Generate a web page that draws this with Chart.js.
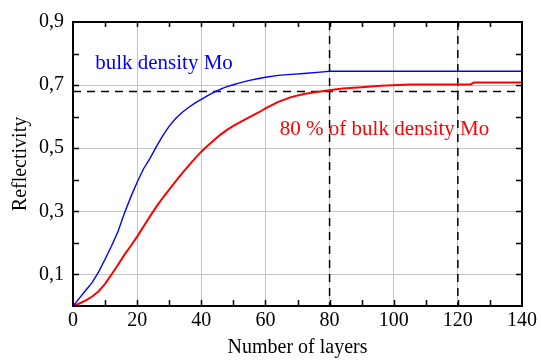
<!DOCTYPE html>
<html>
<head>
<meta charset="utf-8">
<script src="https://cdn.jsdelivr.net/npm/chart.js@4"></script>
<style>
  html, body { margin: 0; padding: 0; background: #fff; }
  #wrap { width: 541px; height: 360px; }
</style>
</head>
<body>
<div id="wrap"><canvas id="refl"></canvas></div>
<script>
// values
const bulkLayers = [0, 2, 4, 6, 8, 10, 12, 14, 16, 18, 20, 22, 24, 26, 28, 30, 32, 34, 36, 38, 40, 42, 44, 46, 48, 50, 52, 55, 58, 60, 64, 68, 72, 78, 80, 140];
const bulkRefl = [0, 0.025, 0.05, 0.075, 0.108, 0.148, 0.19, 0.235, 0.293, 0.345, 0.392, 0.435, 0.468, 0.505, 0.54, 0.57, 0.594, 0.613, 0.629, 0.643, 0.655, 0.667, 0.678, 0.687, 0.695, 0.701, 0.707, 0.715, 0.721, 0.725, 0.731, 0.734, 0.737, 0.742, 0.744, 0.744];

const lowLayers = [0, 2, 4, 6, 8, 10, 12, 14, 16, 18, 20, 22, 24, 26, 28, 30, 32, 34, 36, 38, 40, 42, 44, 46, 48, 50, 54, 58, 60, 64, 68, 72, 76, 80, 84, 90, 96, 105, 124, 125, 140];
const lowRefl = [0, 0.008, 0.018, 0.03, 0.047, 0.07, 0.1, 0.13, 0.162, 0.19, 0.22, 0.252, 0.284, 0.315, 0.343, 0.369, 0.395, 0.42, 0.444, 0.467, 0.489, 0.508, 0.526, 0.543, 0.558, 0.571, 0.593, 0.614, 0.626, 0.647, 0.662, 0.672, 0.678, 0.684, 0.689, 0.693, 0.698, 0.702, 0.702, 0.708, 0.708];

const refLevel = 0.68;
const refLayers = [80, 120];

const xTicks = [0, 20, 40, 60, 80, 100, 120, 140];
const yTicks = [0.1, 0.3, 0.5, 0.7, 0.9];

const labels = [
  { text: "bulk density Mo", x: 6.9, y: 0.752, color: "#0000ff" },
  { text: "80 % of bulk density Mo", x: 64.5, y: 0.543, color: "#ff0000" },
];

const serif = "'Liberation Serif', 'DejaVu Serif', serif";

const toPts = (xs, ys) => xs.map((x, i) => ({ x, y: ys[i] }));

const datasets = [
  {
    label: "bulk",
    data: toPts(bulkLayers, bulkRefl),
    borderColor: "#0000ff",
    borderWidth: 1.4,
  },
  {
    label: "80%",
    data: toPts(lowLayers, lowRefl),
    borderColor: "#ff0000",
    borderWidth: 2,
  },
  {
    label: "level",
    data: [{ x: 0, y: refLevel }, { x: 140, y: refLevel }],
    borderColor: "#000",
    borderWidth: 1.5,
    borderDash: [8, 6],
  },
];
refLayers.forEach((n) => {
  datasets.push({
    label: "layer " + n,
    data: [{ x: n, y: 0.9 }, { x: n, y: 0 }],
    borderColor: "#000",
    borderWidth: 1.5,
    borderDash: [8, 6],
  });
});
datasets.forEach((d) => {
  d.pointRadius = 0;
  d.tension = 0;
  d.fill = false;
});

const frame = {
  id: "frame",
  afterDatasetsDraw(chart) {
    const { ctx, chartArea: a, scales: { x, y } } = chart;
    ctx.save();
    labels.forEach((l) => {
      ctx.font = "21px " + serif;
      ctx.fillStyle = l.color;
      ctx.textBaseline = "alphabetic";
      ctx.fillText(l.text, x.getPixelForValue(l.x), y.getPixelForValue(l.y));
    });
    ctx.strokeStyle = "#000";
    ctx.lineWidth = 2;
    ctx.strokeRect(a.left, a.top, a.right - a.left, a.bottom - a.top);
    ctx.lineWidth = 1.5;
    ctx.beginPath();
    for (let v = 10; v < 140; v += 10) {
      const px = Math.round(x.getPixelForValue(v)) + 0.5;
      ctx.moveTo(px, a.bottom); ctx.lineTo(px, a.bottom - 6);
      ctx.moveTo(px, a.top); ctx.lineTo(px, a.top + 5);
    }
    for (let i = 1; i < 9; i++) {
      const py = Math.round(y.getPixelForValue(i / 10)) + 0.5;
      ctx.moveTo(a.left, py); ctx.lineTo(a.left + 6, py);
      ctx.moveTo(a.right, py); ctx.lineTo(a.right - 6, py);
    }
    ctx.stroke();
    ctx.restore();
  },
};

new Chart(document.getElementById("refl"), {
  type: "line",
  data: { datasets },
  plugins: [frame],
  options: {
    responsive: true,
    maintainAspectRatio: false,
    animation: false,
    layout: { padding: { top: 22, right: 19, left: 0, bottom: 0 } },
    plugins: {
      legend: { display: false },
      tooltip: { enabled: false },
    },
    scales: {
      x: {
        type: "linear",
        min: 0,
        max: 140,
        afterFit: (s) => { s.height = 54; },
        afterBuildTicks: (s) => { s.ticks = xTicks.map((v) => ({ value: v })); },
        grid: { color: "#c4c4c4", lineWidth: 1, drawTicks: false },
        border: { display: false },
        ticks: { color: "#000", padding: 3, maxRotation: 0, font: { family: serif, size: 20 } },
        title: {
          display: true,
          text: "Number of layers",
          color: "#000",
          padding: { top: 0, bottom: 0 },
          font: { family: serif, size: 20 },
        },
      },
      y: {
        min: 0,
        max: 0.9,
        afterFit: (s) => { s.width = 73; },
        afterBuildTicks: (s) => { s.ticks = yTicks.map((v) => ({ value: v })); },
        grid: { color: "#c4c4c4", lineWidth: 1, drawTicks: false },
        border: { display: false },
        ticks: {
          color: "#000",
          padding: 9,
          font: { family: serif, size: 20 },
          callback: (v) => v.toFixed(1).replace(".", ","),
        },
        title: {
          display: true,
          text: "Reflectivity",
          color: "#000",
          padding: { top: 9, bottom: 0 },
          font: { family: serif, size: 20 },
        },
      },
    },
  },
});
</script>
</body>
</html>
